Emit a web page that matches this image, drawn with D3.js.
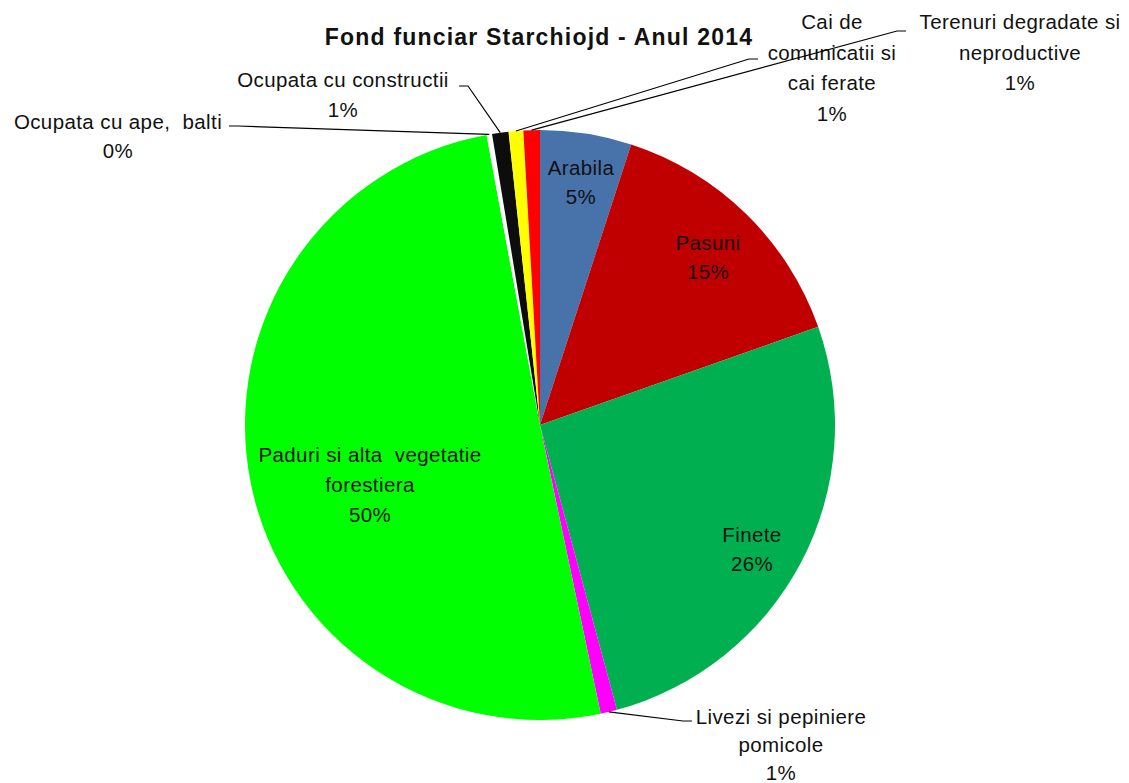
<!DOCTYPE html>
<html>
<head>
<meta charset="utf-8">
<script src="https://cdn.jsdelivr.net/npm/d3@7"></script>
<style>
  body { margin: 0; background: #fff; }
  svg text { font-family: "Liberation Sans", Arial, sans-serif; fill: #111; }
</style>
</head>
<body>
<svg width="1129" height="783"></svg>
<script>
// categorii si procente (fond funciar Starchiojd 2014)
var categories = [
  'Arabila', 'Pasuni', 'Finete', 'Livezi si pepiniere pomicole',
  'Paduri si alta vegetatie forestiera', 'Ocupata cu ape, balti',
  'Ocupata cu constructii', 'Cai de comunicatii si cai ferate',
  'Terenuri degradate si neproductive'
];
var values = [5.0, 14.6, 26.2, 0.9, 50.4, 0.3, 0.9, 0.8, 0.9];
var colors = ['#4872AA', '#C00000', '#00B050', '#FF00FF', '#00FF00',
  '#FFFFFF', '#0D0D0D', '#FFFF00', '#FF0000'];
// label text split on lines as in the chart
var labelLines = [
  ['Arabila'], ['Pasuni'], ['Finete'], ['Livezi si pepiniere', 'pomicole'],
  ['Paduri si alta  vegetatie', 'forestiera'], ['Ocupata cu ape,  balti'],
  ['Ocupata cu constructii'], ['Cai de', 'comunicatii si', 'cai ferate'],
  ['Terenuri degradate si', 'neproductive']
];

function main() {
  var svg = d3.select('svg'),
    cx = 540, cy = 425, radius = 295;

  svg.append('text')
    .attr('x', 539).attr('y', 45)
    .attr('text-anchor', 'middle')
    .style('font-weight', 'bold').style('font-size', '23px')
    .style('letter-spacing', '1.2px')
    .text('Fond funciar Starchiojd - Anul 2014');

  var g = svg.append('g')
    .attr('transform', 'translate(' + cx + ',' + cy + ')');

  var data = categories.map(function(c, i) {
    return {name: c, value: values[i], color: colors[i], lines: labelLines[i]};
  });
  var total = d3.sum(values);

  var pie = d3.pie().sort(null).value(function(d) { return d.value; });
  var path = d3.arc().innerRadius(0).outerRadius(radius);
  var edge = d3.arc().innerRadius(radius).outerRadius(radius);

  var arcs = pie(data);

  g.selectAll('.arc')
    .data(arcs)
    .enter().append('path')
    .attr('class', 'arc')
    .attr('d', path)
    .attr('fill', function(d) { return d.data.color; });

  // label placement (baseline of first line) and leader start
  var labelPos = [
    {x: 581, y: 175, lh: 29},
    {x: 708, y: 250, lh: 28.5},
    {x: 752, y: 542, lh: 28.5},
    {x: 781, y: 724, lh: 28.2, lead: [692, 721]},
    {x: 370, y: 462, lh: 30},
    {x: 118, y: 129, lh: 29, lead: [229, 126]},
    {x: 343, y: 87, lh: 30, lead: [459, 86]},
    {x: 832, y: 29, lh: 30.7, lead: [758, 59]},
    {x: 1020, y: 29, lh: 30.7, lead: [906, 31]}
  ];

  var labels = svg.selectAll('.lbl')
    .data(arcs)
    .enter().append('text')
    .attr('class', 'lbl')
    .attr('text-anchor', 'middle')
    .style('font-size', '20.5px')
    .style('letter-spacing', '0.4px');

  labels.each(function(d, i) {
    var t = d3.select(this), p = labelPos[i];
    var lines = d.data.lines.concat([Math.round(d.data.value / total * 100) + '%']);
    lines.forEach(function(s, k) {
      t.append('tspan')
        .attr('x', p.x)
        .attr('y', p.y + k * p.lh)
        .style('white-space', 'pre')
        .text(s);
    });
  });

  // leader lines for the outside labels
  arcs.forEach(function(d, i) {
    var p = labelPos[i];
    if (!p.lead) return;
    var e = edge.centroid(d);
    var ex = cx + e[0], ey = cy + e[1];
    var dir = ex > p.lead[0] ? 1 : -1;
    var pts = [[p.lead[0], p.lead[1]], [p.lead[0] + dir * 9, p.lead[1]], [ex, ey]];
    svg.append('path')
      .attr('d', d3.line()(pts))
      .attr('fill', 'none')
      .attr('stroke', '#000')
      .attr('stroke-width', 1.2);
  });
}
main();
</script>
</body>
</html>
